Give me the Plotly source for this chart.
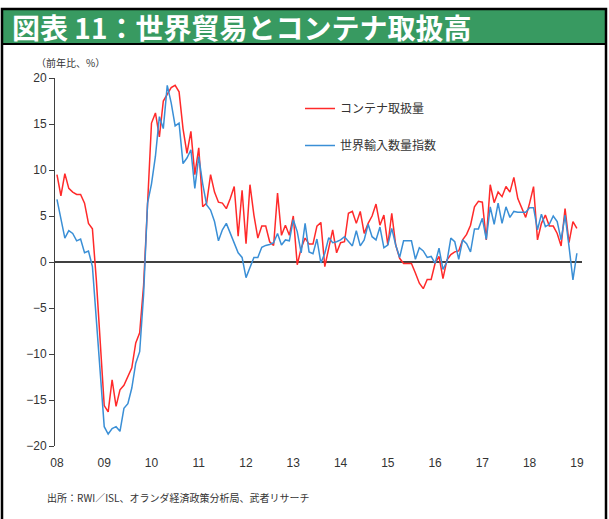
import plotly.graph_objects as go

# Monthly data, Jan 2008 onward (year-on-year %)
container = [
    9.5, 7.2, 9.6, 8.0, 7.6, 7.35, 7.35, 6.4, 4.2, 3.6, -2.0, -9.0,
    -15.6, -16.3, -12.8, -15.7, -13.9, -13.4, -12.4, -11.5, -8.8, -7.7, -2.5, 6.5,
    15.1, 16.2, 13.6, 17.5, 18.3, 18.95, 19.2, 18.5, 14.5, 11.8, 14.2, 9.5,
    12.4, 6.0, 6.4, 9.5, 7.6, 6.5, 6.4, 5.8, 6.9, 8.2, 2.8, 7.8,
    2.0, 8.4, 5.1, 2.6, 3.9, 3.9, 2.2, 1.8, 7.5, 2.9, 4.0, 2.9,
    5.0, -0.3, 1.5, 2.6, 1.95, 1.95, 3.9, 4.3, -0.5, 1.7, 3.5, 1.0,
    2.1, 2.2, 5.3, 5.5, 4.2, 5.5, 3.1, 4.2, 5.0, 6.3, 4.0, 5.1,
    1.85, 5.3, 1.85, 0.4, -0.15, -0.15, -0.15, -1.2, -2.3, -2.9, -1.9, -1.9,
    -0.15, 0.6, -1.8, 0.2, 0.8, 1.1, 1.2, 2.4, 3.0, 4.0, 6.0, 6.6,
    6.5, 2.4, 8.4, 6.45, 7.6, 7.1, 8.2, 7.6, 9.2, 6.9, 5.8, 4.85,
    6.4, 8.2, 2.4, 4.2, 5.1, 3.9, 3.9, 3.1, 1.75, 5.8, 2.1, 4.4,
    3.65,
]
world_import = [
    6.8, 4.7, 2.6, 3.4, 3.1, 2.3, 2.5, 1.0, 1.2, -0.5, -6.0, -12.0,
    -17.9, -18.7, -18.1, -17.9, -18.4, -15.9, -15.4, -13.7, -11.0, -9.75, -3.5, 6.4,
    8.5, 11.5, 15.8, 14.5, 19.2, 17.3, 14.8, 15.1, 10.7, 11.3, 12.2, 8.0,
    11.45, 8.5, 6.2, 5.65, 4.4, 2.3, 3.5, 4.2, 3.2, 2.0, 1.0, 0.5,
    -1.7, -0.6, 0.5, 0.5, 1.6, 1.8, 1.9, 2.1, 3.1, 1.85, 2.4, 2.3,
    4.6, 3.3, 1.0, 4.2, 1.1, 0.9, 2.5, -0.1, 0.95, 2.65, 2.1, 2.2,
    2.4, 2.75, 2.2, 1.75, 3.4, 1.75, 2.4, 4.1, 2.75, 2.4, 3.8, 1.55,
    1.85, 3.65, 1.85, 0.5, 2.3, 2.3, 2.3, 0.3, 1.55, 1.2, 0.5, 0.6,
    -0.15, 1.5, -0.8, 0.03, 2.6, 2.2, 0.3, 2.4, 2.0, 1.1, 3.6, 3.6,
    4.75, 2.45, 6.0, 4.1, 6.4, 4.2, 6.0, 4.85, 5.5, 5.4, 5.4, 5.4,
    5.9, 5.9, 3.5, 5.2, 3.85, 4.1, 5.0, 4.4, 2.4, 5.1, 1.7, -1.95,
    0.95,
]
months = list(range(len(container)))
year_labels = ["08", "09", "10", "11", "12", "13", "14", "15", "16", "17", "18", "19"]
year_ticks = [12 * i for i in range(len(year_labels))]
y_ticks = [-20, -15, -10, -5, 0, 5, 10, 15, 20]

W, H = 609, 519
L, R, T, B = 55, 582, 78, 446

def px(x):
    return (x - L) / (R - L)

def py(y):
    return (B - y) / (B - T)

font_main = "Liberation Sans, Arial, Noto Sans CJK JP, sans-serif"
font_jp = "Noto Sans CJK JP, sans-serif"

fig = go.Figure()
fig.add_trace(go.Scatter(x=months, y=container, mode="lines", name="コンテナ取扱量",
                         line=dict(color="#ff2a2a", width=1.5), legendgroup="a"))
fig.add_trace(go.Scatter(x=months, y=world_import, mode="lines", name="世界輸入数量指数",
                         line=dict(color="#3a8fd6", width=1.5), legendgroup="b"))

fig.update_layout(
    width=W, height=H, autosize=False,
    margin=dict(l=L, r=W - R, t=T, b=H - B),
    paper_bgcolor="white", plot_bgcolor="white",
    font=dict(family=font_main, size=12, color="#333333"),
    showlegend=True,
    legend=dict(x=px(300), y=py(94), xanchor="left", yanchor="top",
                bgcolor="rgba(0,0,0,0)", font=dict(family=font_jp, size=12, color="#333333"),
                tracegroupgap=18, itemwidth=30),
    xaxis=dict(range=[-0.5, 133.3], tickmode="array", tickvals=year_ticks, ticktext=year_labels,
               showgrid=False, zeroline=False, showline=False, ticks="",
               ticklabelstandoff=8, tickfont=dict(size=12, color="#333333")),
    yaxis=dict(range=[-20, 20], tickmode="array", tickvals=y_ticks,
               showgrid=False, zeroline=True, zerolinecolor="#404040", zerolinewidth=1.5,
               showline=True, linecolor="#404040", linewidth=1,
               ticks="outside", ticklen=5, tickcolor="#404040",
               tickfont=dict(size=12, color="#333333")),
)

shapes = [
    # outer frame (bottom edge lies below the visible page)
    dict(type="rect", xref="paper", yref="paper", x0=px(2), x1=px(606), y0=py(530), y1=py(9),
         line=dict(color="black", width=2.5), fillcolor="rgba(0,0,0,0)", layer="above"),
    # title bar
    dict(type="rect", xref="paper", yref="paper", x0=px(2), x1=px(606), y0=py(44), y1=py(9),
         line=dict(color="black", width=2), fillcolor="#389a61", layer="below"),
]
fig.update_layout(shapes=shapes)

fig.add_annotation(text="<b>図表 11：世界貿易とコンテナ取扱高</b>", xref="paper", yref="paper",
                   x=px(10), y=py(27), xanchor="left", yanchor="middle", showarrow=False,
                   font=dict(family=font_jp, size=28, color="white"))
fig.add_annotation(text="（前年比、%）", xref="paper", yref="paper",
                   x=px(34), y=py(62), xanchor="left", yanchor="middle", showarrow=False,
                   font=dict(family=font_jp, size=10, color="#333333"))
fig.add_annotation(text="出所：RWI／ISL、オランダ経済政策分析局、武者リサーチ", xref="paper", yref="paper",
                   x=px(45), y=py(497), xanchor="left", yanchor="middle", showarrow=False,
                   font=dict(family=font_jp, size=10, color="#333333"))

fig.write_html("out.html", config={"displayModeBar": False},
               post_script="document.body.style.margin='0';")
